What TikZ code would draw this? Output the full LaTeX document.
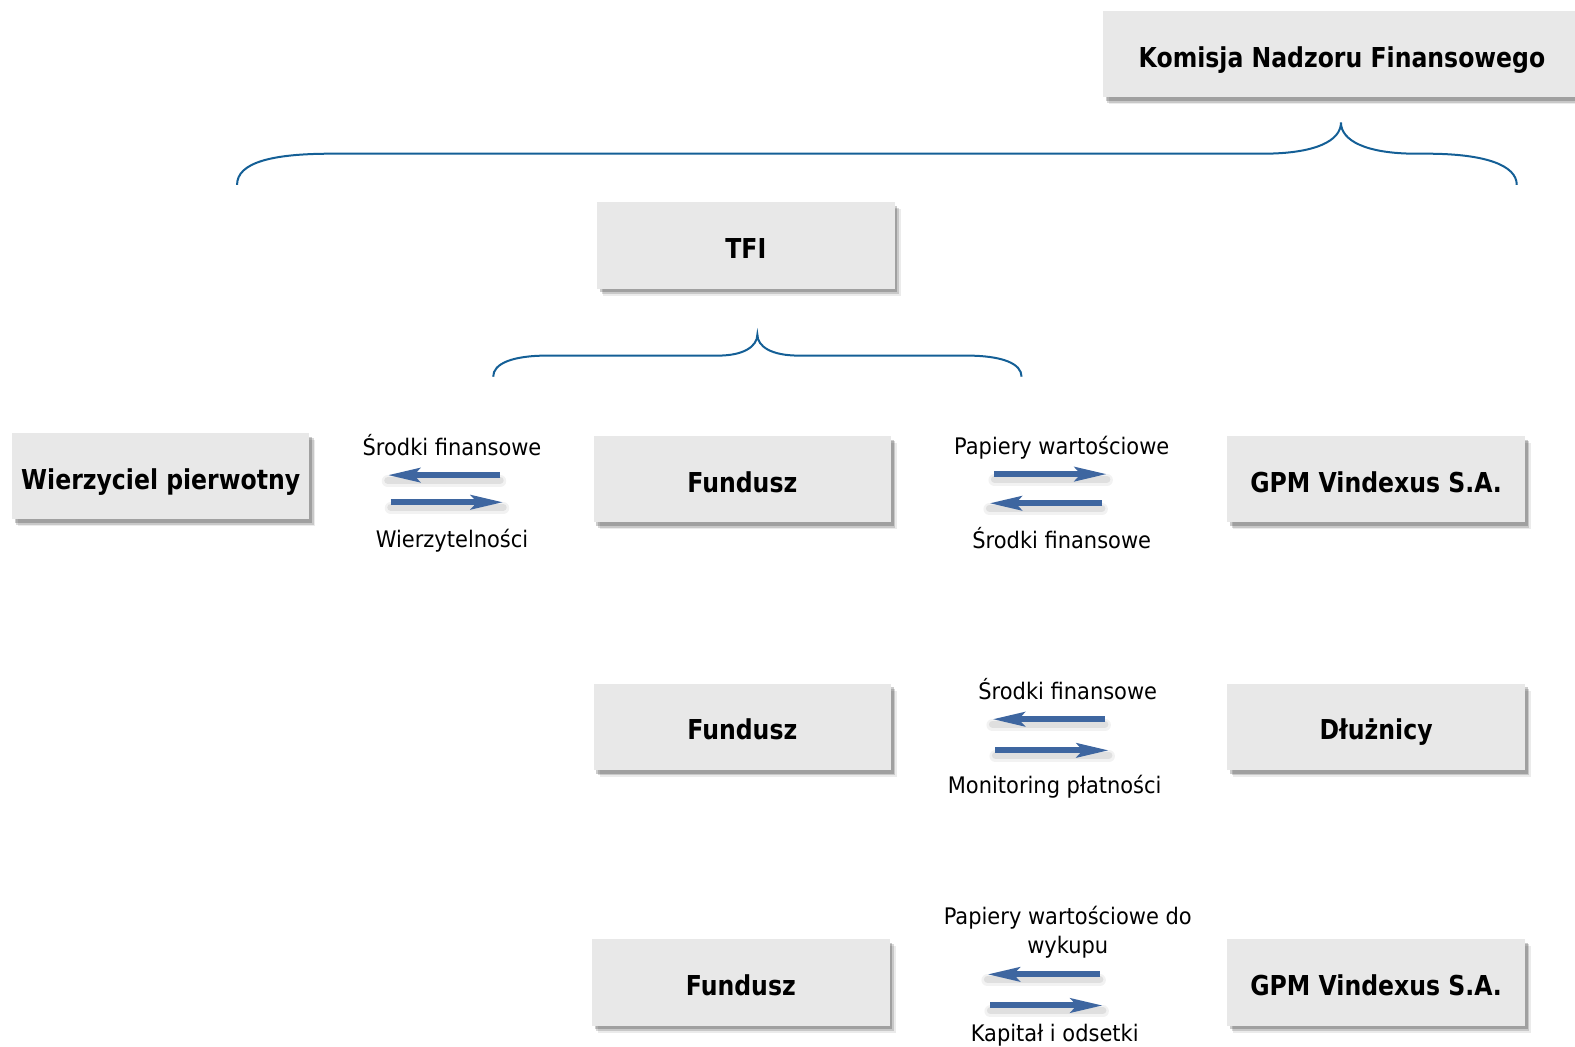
\documentclass[tikz,border=0pt]{standalone}
\usepackage{fontspec}
\setmainfont[FakeStretch=0.92]{DejaVu Sans}
\newfontfamily\boxfont[FakeStretch=0.86]{DejaVu Sans}
\usetikzlibrary{arrows.meta,shadows}
\definecolor{boxgray}{RGB}{232,232,232}
\definecolor{bracecol}{RGB}{20,95,150}
\definecolor{arrowcol}{RGB}{62,102,160}
\begin{document}
\begin{tikzpicture}[x=0.50223pt,y=-0.50223pt,
  box/.style={fill=boxgray, minimum width=148.7pt, minimum height=43.2pt, inner sep=0pt,
    font=\boxfont\fontsize{13.7}{16}\selectfont\bfseries, text height=13pt, text depth=0pt,
    drop shadow={shadow xshift=3pt,shadow yshift=-3.5pt,fill=black,opacity=0.08},
    drop shadow={shadow xshift=2.2pt,shadow yshift=-2.6pt,fill=black,opacity=0.15},
    drop shadow={shadow xshift=1.4pt,shadow yshift=-1.8pt,fill=black,opacity=0.2}},
  lbl/.style={font=\fontsize{11.4}{14}\selectfont, inner sep=0pt, text height=8.3pt, text depth=0pt},
  brace/.style={draw=bracecol, line width=1pt},
  flowshadowa/.style={line width=6pt, draw=black, opacity=0.05, line cap=round},
  flowshadowb/.style={line width=3.5pt, draw=black, opacity=0.08, line cap=round},
  flow/.style={line width=3pt, draw=arrowcol, -{Stealth[length=16pt,width=7pt,inset=3pt]}},
]
\useasboundingbox (0,0) rectangle (1568,1042);
% boxes
\node[box, minimum width=239pt] (kom) at (1336,54) {Komisja Nadzoru Finansowego};
\node[box] (tfi) at (742.5,244.5) {TFI};
\node[box] (wier) at (160,474) {Wierzyciel pierwotny};
\node[box] (f1) at (739,477) {Fundusz};
\node[box] (gpm1) at (1370,477) {GPM Vindexus S.A.};
\node[box] (f2) at (739,723.5) {Fundusz};
\node[box] (dl) at (1370,723.5) {Dłużnicy};
\node[box] (f3) at (737.5,978) {Fundusz};
\node[box] (gpm2) at (1370,978) {GPM Vindexus S.A.};
% braces
\draw[brace] (236,184) .. controls (236,162) and (270,153) .. (330,153) -- (1257,153)
  .. controls (1310,153) and (1335,140) .. (1335,122)
  .. controls (1335,140) and (1360,153) .. (1410,153) -- (1420,153)
  .. controls (1480,153) and (1510,165) .. (1510,184);
\draw[brace] (491,375) .. controls (491,362) and (510,354) .. (545,354) -- (715,354)
  .. controls (740,354) and (754,345) .. (754,333)
  .. controls (754,345) and (768,354) .. (795,354) -- (962,354)
  .. controls (998,354) and (1017,362) .. (1017,375);
% arrow coordinates
\coordinate (a1s) at (498,473); \coordinate (a1e) at (386,473);
\coordinate (a2s) at (389,500); \coordinate (a2e) at (501,500);
\coordinate (b1s) at (990,472); \coordinate (b1e) at (1102,472);
\coordinate (b2s) at (1097,501); \coordinate (b2e) at (985,501);
\coordinate (c1s) at (1100,716); \coordinate (c1e) at (988,716);
\coordinate (c2s) at (991,747); \coordinate (c2e) at (1104,747);
\coordinate (d1s) at (1095,970); \coordinate (d1e) at (983,970);
\coordinate (d2s) at (986,1001); \coordinate (d2e) at (1098,1001);
\foreach \s/\e in {a1s/a1e,a2s/a2e,b1s/b1e,b2s/b2e,c1s/c1e,c2s/c2e,d1s/d1e,d2s/d2e}{
  \draw[flowshadowa] ([yshift=-3pt]\s) -- ([yshift=-3pt]\e);
  \draw[flowshadowb] ([yshift=-2.5pt]\s) -- ([yshift=-2.5pt]\e);
  \draw[flow] (\s) -- (\e);
}
% labels
\node[lbl] (l1) at (450,445) {Środki finansowe};
\node[lbl] (l2) at (450,537) {Wierzytelności};
\node[lbl] (l3) at (1057,444.5) {Papiery wartościowe};
\node[lbl] (l4) at (1057,538) {Środki finansowe};
\node[lbl] (l5) at (1063,688) {Środki finansowe};
\node[lbl] (l6) at (1050,782) {Monitoring płatności};
\node[lbl] (l7a) at (1063,912) {Papiery wartościowe do};
\node[lbl] (l7b) at (1063,941) {wykupu};
\node[lbl] (l8) at (1050,1029) {Kapitał i odsetki};
\end{tikzpicture}
\end{document}
